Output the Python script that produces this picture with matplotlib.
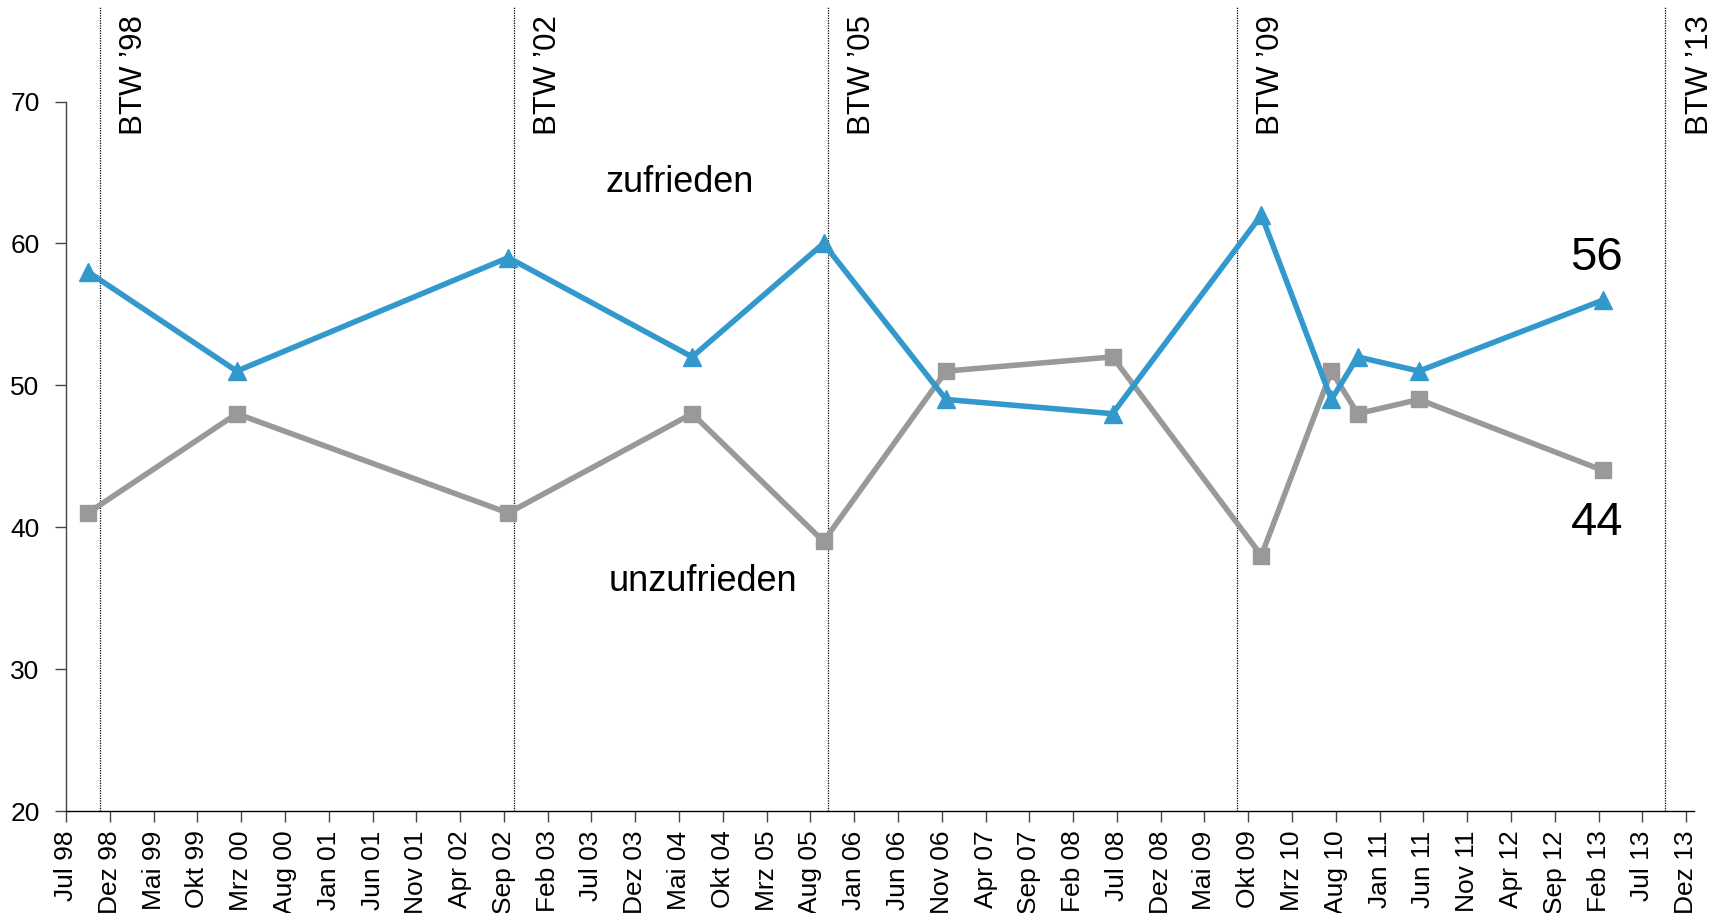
import matplotlib
matplotlib.use("Agg")
import matplotlib.pyplot as plt

plt.rcParams['font.family'] = ['Liberation Sans', 'DejaVu Sans']

# --- data ---
tick_labels = ["Jul 98", "Dez 98", "Mai 99", "Okt 99", "Mrz 00", "Aug 00", "Jan 01", "Jun 01",
               "Nov 01", "Apr 02", "Sep 02", "Feb 03", "Jul 03", "Dez 03", "Mai 04", "Okt 04",
               "Mrz 05", "Aug 05", "Jan 06", "Jun 06", "Nov 06", "Apr 07", "Sep 07", "Feb 08",
               "Jul 08", "Dez 08", "Mai 09", "Okt 09", "Mrz 10", "Aug 10", "Jan 11", "Jun 11",
               "Nov 11", "Apr 12", "Sep 12", "Feb 13", "Jul 13", "Dez 13"]
survey_months = ["1998-09", "2000-02", "2002-09", "2004-06", "2005-09", "2006-11",
                 "2008-06", "2009-11", "2010-07", "2010-10", "2011-05", "2013-02"]
zufrieden = [58, 51, 59, 52, 60, 49, 48, 62, 49, 52, 51, 56]
unzufrieden = [41, 48, 41, 48, 39, 51, 52, 38, 51, 48, 49, 44]
election_labels = ["BTW \u201998", "BTW \u201902", "BTW \u201905", "BTW \u201909", "BTW \u201913"]
election_pos = [3.85, 51.1, 87.0, 133.7, 182.6]   # months after Jul 98 (as drawn)

def month_index(s, mid=0.5):
    y, m = map(int, s.split("-"))
    return (y - 1998) * 12 + (m - 7) + mid

xs = [month_index(s) for s in survey_months]
tick_pos = [5 * i for i in range(len(tick_labels))]

BLUE = "#3399cc"
GREY = "#999999"

fig = plt.figure(figsize=(17.12, 9.13), dpi=100)
ax = fig.add_axes([66 / 1712, 102 / 913, 1628 / 1712, 804 / 913])
ax.set_xlim(0, 185.9)
ax.set_ylim(20, 20 + 804 / 14.19)

for xp in election_pos:
    ax.axvline(xp, color="black", lw=0.9, ls=(0, (1, 1)), zorder=1)
for xp, lab in zip(election_pos, election_labels):
    ax.annotate(lab, xy=(xp, 0.99), xycoords=("data", "axes fraction"),
                xytext=(14, 0), textcoords="offset points", rotation=90,
                ha="left", va="top", fontsize=22.5)

ax.plot(xs, unzufrieden, color=GREY, lw=4, marker="s", ms=12, zorder=3)
ax.plot(xs, zufrieden, color=BLUE, lw=4, marker="^", ms=13, zorder=4)

ax.text(70.1, 64.3, "zufrieden", fontsize=26, ha="center", va="center")
ax.text(72.7, 36.2, "unzufrieden", fontsize=26, ha="center", va="center")
ax.text(174.8, 59.0, str(zufrieden[-1]), fontsize=34, ha="center", va="center")
ax.text(174.8, 40.3, str(unzufrieden[-1]), fontsize=34, ha="center", va="center")

ax.set_xticks(tick_pos)
ax.set_xticklabels(tick_labels, rotation=90, fontsize=19)
ax.set_yticks([20, 30, 40, 50, 60, 70])
ax.tick_params(axis="y", labelsize=19, length=8, width=1, direction="out", pad=11,
               color="#444444")
ax.tick_params(axis="x", length=8, width=1, direction="out", pad=6, color="#444444")

for s in ["top", "right"]:
    ax.spines[s].set_visible(False)
ax.spines["left"].set_bounds(20, 70)
ax.spines["left"].set_color("#444444")
ax.spines["bottom"].set_color("black")
ax.spines["left"].set_linewidth(1)
ax.spines["bottom"].set_linewidth(1)

fig.savefig("out.png", dpi=100)
